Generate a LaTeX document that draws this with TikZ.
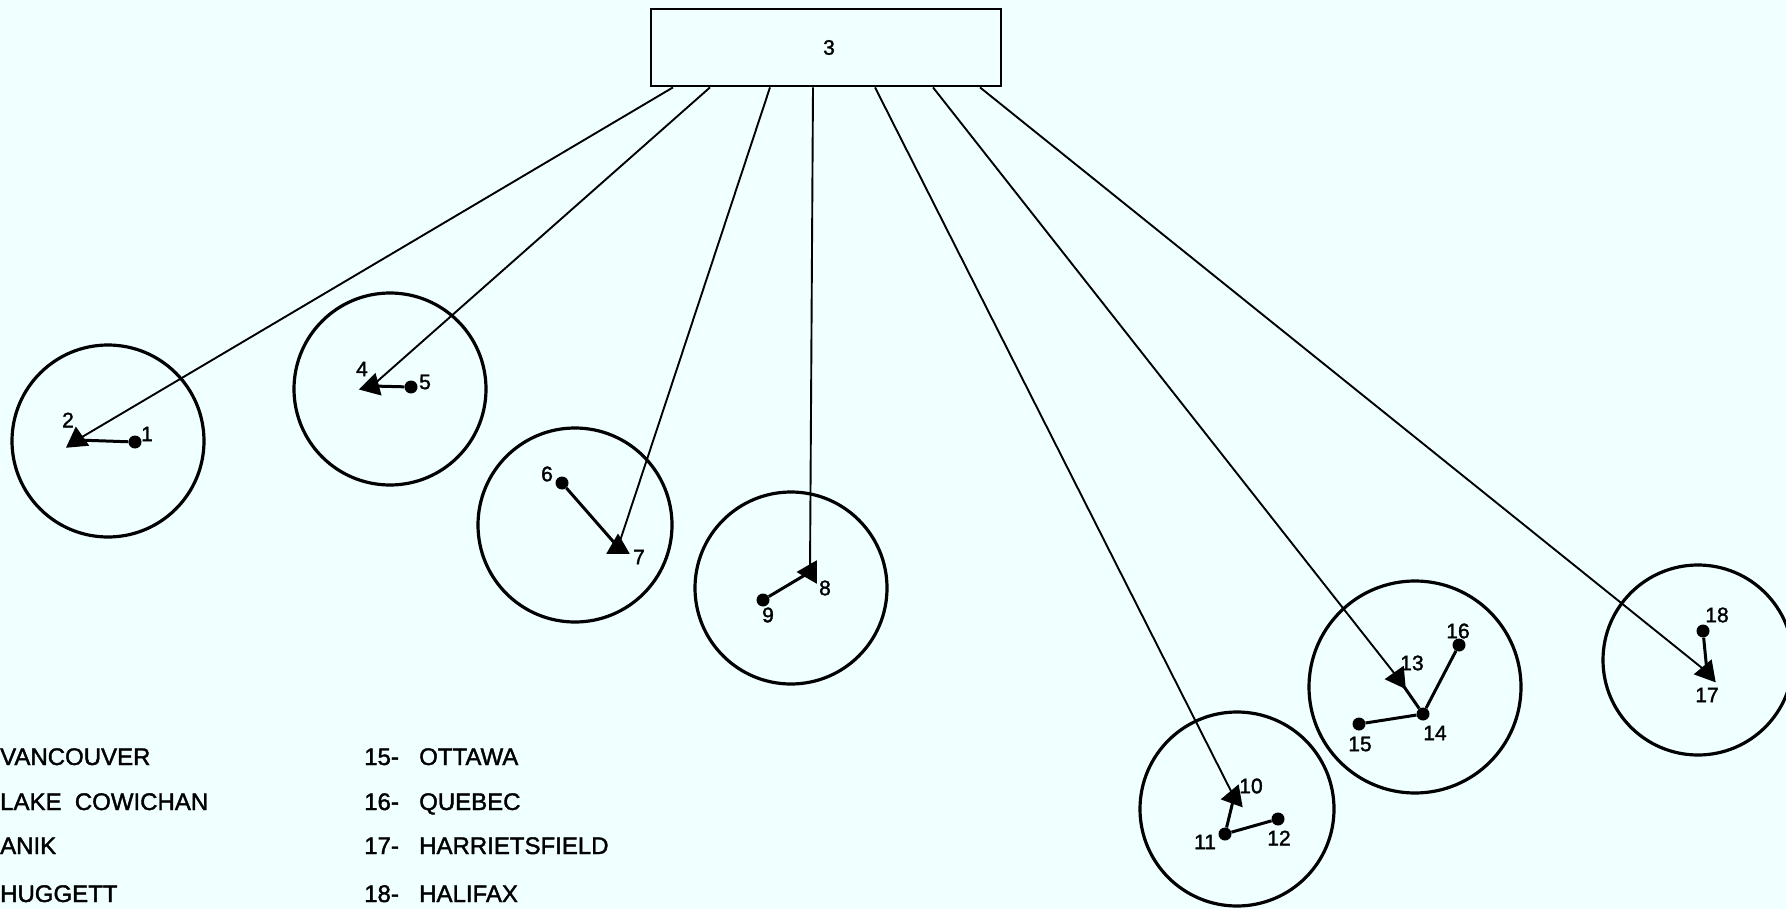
\documentclass[tikz,border=0pt]{standalone}
\usepackage{fontspec}
\setmainfont{Liberation Sans}[WordSpace=2.0, FakeBold=1.6]
\usetikzlibrary{shapes.geometric}
\definecolor{paper}{RGB}{240,255,255}
\newcommand{\gapafter}{\hspace{7pt}}
\begin{document}
\begin{tikzpicture}[x=1pt,y=-1pt,
  ring/.style={draw, circle, line width=3.2pt, inner sep=0pt},
  site/.style={regular polygon, regular polygon sides=3, fill=black, inner sep=0pt, minimum size=27pt},
  station/.style={circle, fill=black, inner sep=0pt, minimum size=13pt},
  link/.style={line width=3pt},
  feed/.style={line width=1.9pt},
  num/.style={font=\fontsize{21}{21}\selectfont, inner sep=0pt},
  legend/.style={font=\fontsize{24}{24}\selectfont, anchor=base west, inner sep=0pt}]
\fill[paper] (0,0) rectangle (1786,909);
\useasboundingbox (0,0) rectangle (1786,909);

% central station
\node[draw, line width=2.8pt, minimum width=350pt, minimum height=77pt,
      font=\fontsize{21}{21}\selectfont] (hub) at (826,47.5) {\hspace{6pt}3};

% coverage rings
\node[ring, minimum size=192pt] (c1) at (108,441) {};
\node[ring, minimum size=192pt] (c2) at (390,389) {};
\node[ring, minimum size=194pt] (c3) at (575,525) {};
\node[ring, minimum size=192pt] (c4) at (791,588) {};
\node[ring, minimum size=194pt] (c5) at (1237,809) {};
\node[ring, minimum size=212pt] (c6) at (1415,687) {};
\node[ring, minimum size=190pt] (c7) at (1698,660) {};

% ground terminals (triangles) and stations (dots)
\node[site, rotate=5]   (s2)  at (77,440) {};
\node[station]          (s1)  at (135,442) {};
\node[site, rotate=-15] (s4)  at (372,386) {};
\node[station]          (s5)  at (411,387) {};
\node[station]          (s6)  at (562,483) {};
\node[site]             (s7)  at (618,547) {};
\node[site, rotate=-30] (s8)  at (810,572) {};
\node[station]          (s9)  at (763,600) {};
\node[site, rotate=-20] (s10) at (1234,797) {};
\node[station]          (s11) at (1225,834) {};
\node[station]          (s12) at (1278,819) {};
\node[site, rotate=-25] (s13) at (1398,678) {};
\node[station]          (s14) at (1423,714) {};
\node[station]          (s15) at (1359,724) {};
\node[station]          (s16) at (1459,645) {};
\node[station]          (s18) at (1703,631) {};
\node[site, rotate=-20] (s17) at (1707,672) {};

% feeds from the central station
\draw[feed] ([xshift=-153pt]hub.south) -- (s2.center);
\draw[feed] ([xshift=-116pt]hub.south) -- (s4.center);
\draw[feed] ([xshift=-56pt]hub.south)  -- (s7.center);
\draw[feed] ([xshift=-13pt]hub.south)  -- (s8.center);
\draw[feed] ([xshift=49pt]hub.south)   -- (s10.center);
\draw[feed] ([xshift=107pt]hub.south)  -- (s13.center);
\draw[feed] ([xshift=154pt]hub.south)  -- (s17.center);

% local links
\draw[link] (s1) -- (s2.center);
\draw[link] (s5) -- (s4.center);
\draw[link] (s6) -- (s7.center);
\draw[link] (s9) -- (s8.center);
\draw[link] (s11) -- (s10.center);
\draw[link] (s11) -- (s12);
\draw[link] (s14) -- (s13.center);
\draw[link] (s14) -- (s15);
\draw[link] (s14) -- (s16);
\draw[link] (s18) -- (s17.center);

% station numbers
\node[num] (n1)  at (147,434) {1};
\node[num] (n2)  at (68,420) {2};
\node[num] (n4)  at (362,369) {4};
\node[num] (n5)  at (425,382) {5};
\node[num] (n6)  at (547,474) {6};
\node[num] (n7)  at (639,557) {7};
\node[num] (n8)  at (825,588) {8};
\node[num] (n9)  at (768,615) {9};
\node[num] (n10) at (1251,786) {10};
\node[num] (n11) at (1205,842) {11};
\node[num] (n12) at (1279,838) {12};
\node[num] (n13) at (1412,663) {13};
\node[num] (n14) at (1435,733) {14};
\node[num] (n15) at (1360,744) {15};
\node[num] (n16) at (1458,631) {16};
\node[num] (n17) at (1707,695) {17};
\node[num] (n18) at (1717,615) {18};

% legend
\node[legend] (la) at (0,765) {VANCOUVER};
\node[legend] (lb) at (0,810) {LAKE COWICHAN};
\node[legend] (lc) at (0,854) {ANIK};
\node[legend] (ld) at (0,902) {HUGGETT};
\node[legend] (le) at (364,765) {15- \gapafter OTTAWA};
\node[legend] (lf) at (364,810) {16- \gapafter QUEBEC};
\node[legend] (lg) at (364,854) {17- \gapafter HARRIETSFIELD};
\node[legend] (lh) at (364,902) {18- \gapafter HALIFAX};
\end{tikzpicture}
\end{document}
